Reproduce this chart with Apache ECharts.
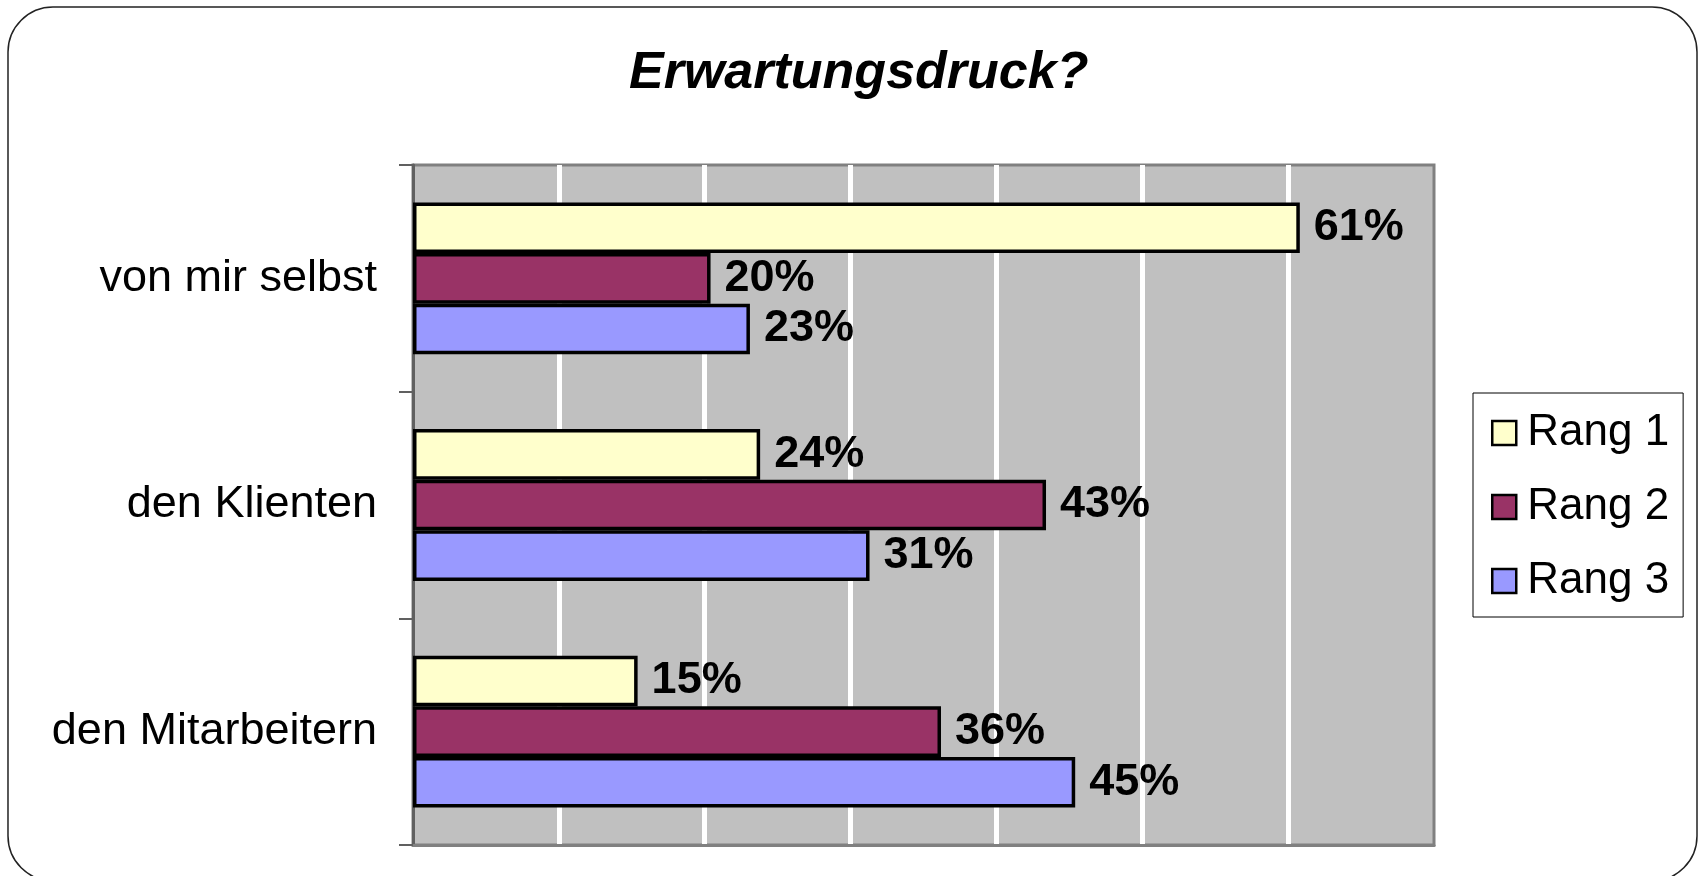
<!DOCTYPE html>
<html>
<head>
<meta charset="utf-8">
<script src="https://cdn.jsdelivr.net/npm/echarts@6/dist/echarts.min.js"></script>
<style>
html, body { margin: 0; padding: 0; background: #fff; }
#container1 { width: 1702px; height: 876px; }
</style>
</head>
<body>
<div id="container1"></div>
<script>
// Kategorien (von oben nach unten)
var categories = ['von mir selbst', 'den Klienten', 'den Mitarbeitern'];
var seriesNames = ['Rang 1', 'Rang 2', 'Rang 3'];
// Werte in %, aus dem Bild gelesen
var rang1 = [60.8, 23.8, 15.4];
var rang2 = [20.4, 43.4, 36.2];
var rang3 = [23.1, 31.3, 45.4];
var colors = ['#FFFFCC', '#993366', '#9999FF'];

var myChart = echarts.init(document.getElementById('container1'));

function makeSeries(name, data) {
    return {
        name: name,
        type: 'bar',
        data: data,
        barGap: '0%',
        barCategoryGap: '33%',
        itemStyle: { borderColor: '#000', borderWidth: 3.5 },
        label: {
            show: true,
            position: 'right',
            distance: 14,
            formatter: function (p) { return Math.round(p.value) + '%'; },
            fontFamily: 'Liberation Sans',
            fontWeight: 'bold',
            fontSize: 45,
            color: '#000'
        }
    };
}

var option = {
    animation: false,
    color: colors,
    graphic: [{
        type: 'rect',
        shape: { x: 8, y: 7, width: 1689, height: 874, r: 45 },
        style: { fill: 'none', stroke: '#222', lineWidth: 1.5 },
        z: -10
    }],
    title: {
        text: 'Erwartungsdruck?',
        left: 624,
        top: 43,
        textStyle: {
            fontFamily: 'Liberation Sans',
            fontWeight: 'bold',
            fontStyle: 'italic',
            fontSize: 52,
            color: '#000'
        }
    },
    legend: {
        data: seriesNames,
        orient: 'vertical',
        left: 1473,
        top: 393,
        padding: [18, 14, 14, 18],
        itemGap: 30,
        itemWidth: 24,
        itemHeight: 24,
        icon: 'rect',
        borderColor: '#000',
        borderWidth: 1,
        itemStyle: { borderColor: '#000', borderWidth: 2.5 },
        textStyle: {
            fontFamily: 'Liberation Sans',
            fontSize: 44,
            lineHeight: 44,
            color: '#000',
            padding: [0, 0, 0, 6]
        }
    },
    grid: {
        show: true,
        left: 413,
        top: 165,
        width: 1021,
        height: 680,
        backgroundColor: '#C0C0C0',
        borderColor: '#808080',
        borderWidth: 3
    },
    xAxis: {
        type: 'value',
        min: 0,
        max: 70,
        interval: 10,
        axisLabel: { show: false },
        axisTick: { show: false },
        axisLine: { show: true, lineStyle: { color: '#808080', width: 3 } },
        splitLine: {
            show: true,
            showMinLine: false,
            showMaxLine: false,
            lineStyle: { color: '#fff', width: 5 }
        }
    },
    yAxis: {
        type: 'category',
        data: categories,
        inverse: true,
        axisLine: { show: true, lineStyle: { color: '#606060', width: 3 } },
        axisTick: { show: true, length: 14, lineStyle: { color: '#606060', width: 2 } },
        axisLabel: {
            margin: 36,
            fontFamily: 'Liberation Sans',
            fontSize: 45,
            color: '#000'
        }
    },
    series: [
        makeSeries(seriesNames[0], rang1),
        makeSeries(seriesNames[1], rang2),
        makeSeries(seriesNames[2], rang3)
    ]
};

myChart.setOption(option, true);
</script>
</body>
</html>
